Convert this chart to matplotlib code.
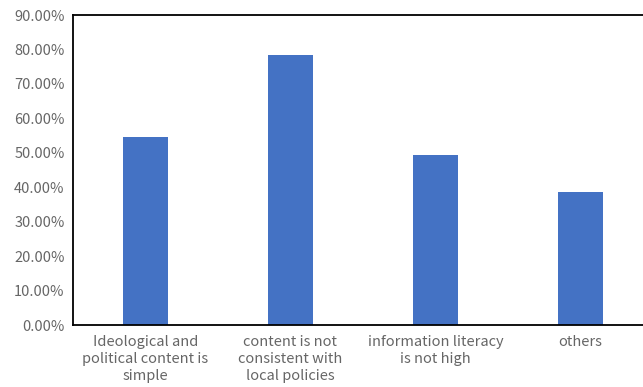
import matplotlib
matplotlib.use('Agg')
import matplotlib.pyplot as plt
from matplotlib.ticker import FuncFormatter, MultipleLocator

# survey results: share of respondents per issue
categories = ['Ideological and\npolitical content is\nsimple',
              'content is not\nconsistent with\nlocal policies',
              'information literacy\nis not high',
              'others']
shares = [54.6, 78.4, 49.4, 38.6]

plt.rcParams['font.family'] = ['Noto Sans CJK SC', 'DejaVu Sans']

fig = plt.figure(figsize=(6.43, 3.87), dpi=100)
ax = fig.add_axes([0.1135, 0.160, 0.902, 0.801])

x = range(len(categories))
ax.bar(x, shares, width=0.31, color='#4472C4')

ax.set_xlim(-0.5, len(categories) - 0.5)
ax.set_ylim(0, 90)
ax.yaxis.set_major_locator(MultipleLocator(10))
ax.yaxis.set_major_formatter(FuncFormatter(lambda v, _: f'{v:.2f}%'))
ax.set_xticks(list(x))
ax.set_xticklabels(categories, linespacing=1.3)

ax.tick_params(axis='both', length=0, labelsize=10.5, colors='#666666')
ax.tick_params(axis='x', pad=7)
ax.tick_params(axis='y', pad=6)
for lbl in ax.get_yticklabels() + ax.get_xticklabels():
    lbl.set_fontweight('light')

for side in ['left', 'bottom', 'top', 'right']:
    ax.spines[side].set_color('black')
    ax.spines[side].set_linewidth(1.3)

fig.savefig('out.png', dpi=100)
